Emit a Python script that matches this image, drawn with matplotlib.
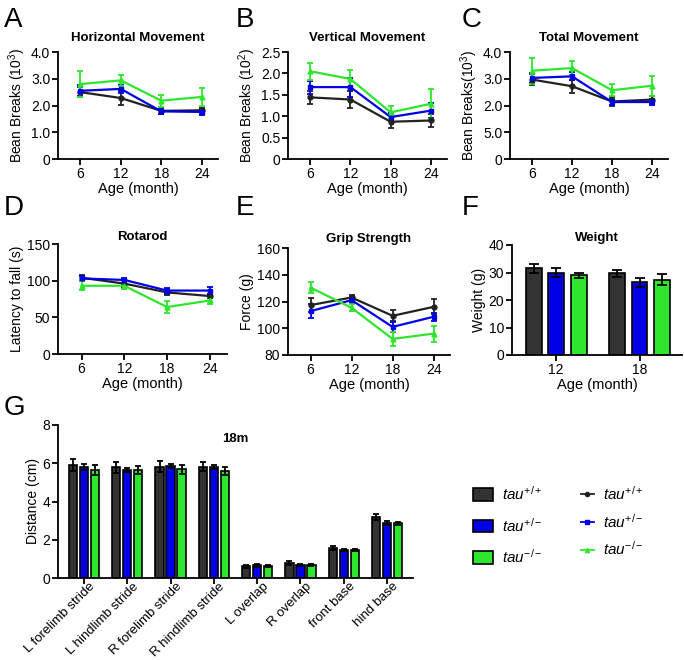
import numpy as np
import matplotlib
matplotlib.use("Agg")
import matplotlib.pyplot as plt
import matplotlib.transforms as mtransforms
from matplotlib.patches import Patch
from matplotlib.lines import Line2D

plt.rcParams['font.family'] = ['Liberation Sans', 'DejaVu Sans']
plt.rcParams['mathtext.fontset'] = 'custom'
plt.rcParams['mathtext.rm'] = 'Liberation Sans'
plt.rcParams['mathtext.it'] = 'Liberation Sans:italic'

W, H = 684, 660

ages = [6, 12, 18, 24]
groups = ['tau+/+', 'tau+/-', 'tau-/-']
line_colors = ['#222222', '#0000e6', '#2ee62e']
bar_colors = ['#333333', '#0000e6', '#2ee62e']
markers = ['o', 's', '^']
labels = [r'$\mathit{tau}^{\mathrm{+/+}}$', r'$\mathit{tau}^{\mathrm{+/-}}$',
          r'$\mathit{tau}^{\mathrm{-/-}}$']

# A horizontal movement (10^3)
horiz_mean = [[2.50, 2.28, 1.80, 1.82], [2.55, 2.62, 1.78, 1.76], [2.80, 2.94, 2.18, 2.32]]
horiz_err = [[0.20, 0.25, 0.12, 0.10], [0.20, 0.15, 0.10, 0.10], [0.50, 0.21, 0.22, 0.35]]
# B vertical movement (10^2)
vert_mean = [[1.44, 1.39, 0.87, 0.90], [1.68, 1.68, 0.98, 1.13], [2.05, 1.87, 1.09, 1.29]]
vert_err = [[0.15, 0.20, 0.15, 0.15], [0.15, 0.22, 0.10, 0.17], [0.20, 0.20, 0.16, 0.35]]
# C total movement (10^3)
total_mean = [[2.97, 2.72, 2.15, 2.22], [3.03, 3.09, 2.13, 2.13], [3.30, 3.40, 2.57, 2.74]]
total_err = [[0.20, 0.25, 0.15, 0.12], [0.20, 0.15, 0.12, 0.12], [0.48, 0.25, 0.23, 0.38]]
# D rotarod (s)
rota_mean = [[104, 96, 84, 79], [103, 101, 86.5, 86.5], [93, 93, 64, 73]]
rota_err = [[4, 4, 4, 3], [4, 3, 4, 5], [6, 5, 8, 5]]
# E grip strength (g)
grip_mean = [[117.3, 123, 109.3, 116], [112.8, 121, 101, 108.6], [130.4, 115.3, 92, 96]]
grip_err = [[5.5, 2, 4, 5.5], [5, 2, 4, 3], [4, 2.5, 5, 6]]
# F weight (g)
weight_ages = ['12', '18']
weight_mean = [[31.5, 29.7], [30.0, 26.4], [29.0, 27.3]]
weight_err = [[1.5, 1.3], [1.5, 1.5], [1.0, 2.0]]
# G gait at 18m (cm)
gait_params = ['L forelimb stride', 'L hindlimb stride', 'R forelimb stride', 'R hindlimb stride',
               'L overlap', 'R overlap', 'front base', 'hind base']
gait_mean = [[5.90, 5.78, 5.82, 5.82, 0.61, 0.79, 1.57, 3.20],
             [5.82, 5.64, 5.87, 5.82, 0.66, 0.66, 1.48, 2.88],
             [5.64, 5.64, 5.68, 5.59, 0.61, 0.66, 1.48, 2.85]]
gait_err = [[0.30, 0.30, 0.30, 0.25, 0.08, 0.12, 0.12, 0.15],
            [0.15, 0.12, 0.10, 0.10, 0.07, 0.05, 0.06, 0.10],
            [0.25, 0.20, 0.22, 0.22, 0.05, 0.05, 0.05, 0.07]]

fig = plt.figure(figsize=(W / 100, H / 100), dpi=100)


def ax_at(l, t, r, b):
    ax = fig.add_axes([l / W, 1 - b / H, (r - l) / W, (b - t) / H])
    for s in ['top', 'right']:
        ax.spines[s].set_visible(False)
    for s in ['left', 'bottom']:
        ax.spines[s].set_linewidth(1.3)
    ax.tick_params(width=1.3, length=4, labelsize=10, pad=1.5)
    return ax


def line_panel(ax, means, errs, title, ylabel, ylim, yticks, yticklabels, pad):
    for i in range(3):
        ax.errorbar(ages, means[i], yerr=errs[i], color=line_colors[i], marker=markers[i],
                    ms=3.5, lw=1.6, capsize=2.5, elinewidth=1.3, capthick=1.3)
    ax.set_xlim(2.7, 26.4)
    ax.set_ylim(*ylim)
    ax.set_xticks(ages)
    ax.set_yticks(yticks)
    ax.set_yticklabels(yticklabels)
    ax.set_title(title, fontsize=9.5, fontweight='bold', pad=pad)
    ax.set_ylabel(ylabel, fontsize=10, labelpad=2)
    ax.set_xlabel('Age (month)', fontsize=10.5, labelpad=1)


axA = ax_at(58, 52, 218, 159)
line_panel(axA, horiz_mean, horiz_err, 'Horizontal Movement', r'Bean Breaks (10$^3$)',
           (0, 4.0), [0, 1, 2, 3, 4], ['0', '1.0', '2.0', '3.0', '4.0'], 8)
axB = ax_at(288, 52, 447, 159)
line_panel(axB, vert_mean, vert_err, 'Vertical Movement', r'Bean Breaks (10$^2$)',
           (0, 2.5), [0, 0.5, 1.0, 1.5, 2.0, 2.5], ['0', '0.5', '1.0', '1.5', '2.0', '2.5'], 8)
axC = ax_at(510, 52, 668, 159)
line_panel(axC, total_mean, total_err, 'Total Movement', r'Bean Breaks(10$^3$)',
           (0, 4.0), [0, 1, 2, 3, 4], ['0', '5.0', '2.0', '3.0', '4.0'], 8)
axD = ax_at(58, 244, 227, 354)
line_panel(axD, rota_mean, rota_err, 'Rotarod', 'Latency to fall (s)',
           (0, 150), [0, 50, 100, 150], ['0', '50', '100', '150'], 3)
axE = ax_at(288, 248, 450, 355)
line_panel(axE, grip_mean, grip_err, 'Grip Strength', 'Force (g)',
           (80, 160), [80, 100, 120, 140, 160], ['80', '100', '120', '140', '160'], 4)

# F weight bars
axF = ax_at(512, 245, 682, 355)
xF = np.arange(len(weight_ages))
for i in range(3):
    axF.bar(xF + (i - 1) * 0.27, weight_mean[i], width=0.19, color=bar_colors[i],
            edgecolor='black', lw=1.2, yerr=weight_err[i], capsize=3.5,
            error_kw=dict(elinewidth=1.3, capthick=1.3))
axF.set_xlim(-0.53, 1.51)
axF.set_ylim(0, 40)
axF.set_yticks([0, 10, 20, 30, 40])
axF.set_xticks(xF)
axF.set_xticklabels(weight_ages)
axF.set_title('Weight', fontsize=9.5, fontweight='bold', pad=3)
axF.set_ylabel('Weight (g)', fontsize=10, labelpad=2)
axF.set_xlabel('Age (month)', fontsize=10.5, labelpad=1)

# G gait bars
axG = ax_at(58, 425, 413, 578)
xG = np.arange(len(gait_params))
for i in range(3):
    axG.bar(xG + (i - 1) * 0.255, gait_mean[i], width=0.19, color=bar_colors[i],
            edgecolor='black', lw=1.2, yerr=gait_err[i], capsize=2.5,
            error_kw=dict(elinewidth=1.3, capthick=1.3))
axG.set_xlim(-0.6, 7.6)
axG.set_ylim(0, 8)
axG.set_yticks([0, 2, 4, 6, 8])
axG.set_xticks(xG)
axG.set_xticklabels(gait_params, rotation=45, ha='right', rotation_mode='anchor', fontsize=9.5)
shift = mtransforms.ScaledTranslation(5 / 100, 5 / 100, fig.dpi_scale_trans)
for lab in axG.get_xticklabels():
    lab.set_transform(lab.get_transform() + shift)
axG.set_ylabel('Distance (cm)', fontsize=10, labelpad=2)
axG.text(0.5, 0.95, '18m', transform=axG.transAxes, ha='center', va='top',
         fontsize=9.5, fontweight='bold')

# panel letters
for letter, x, y in [('A', 4, 27), ('B', 236, 27), ('C', 462, 27),
                     ('D', 4, 215), ('E', 236, 215), ('F', 462, 215), ('G', 4, 415)]:
    fig.text(x / W, 1 - y / H, letter, fontsize=20, ha='left', va='baseline')

# legends
bar_handles = [Patch(facecolor=bar_colors[i], edgecolor='black', lw=1.2) for i in range(3)]
fig.legend(bar_handles, labels, loc='upper left', bbox_to_anchor=(459 / W, 1 - 471 / H),
           frameon=False, fontsize=11, handlelength=1.3, handleheight=0.9,
           labelspacing=0.9, handletextpad=0.6)
line_handles = [Line2D([], [], color=line_colors[i], marker=markers[i], ms=3, lw=1.3)
                for i in range(3)]
fig.legend(line_handles, labels, loc='upper left', bbox_to_anchor=(567 / W, 1 - 471 / H),
           frameon=False, fontsize=11, handlelength=0.85, labelspacing=0.64, handletextpad=0.6)

fig.savefig('out.png', dpi=100)
